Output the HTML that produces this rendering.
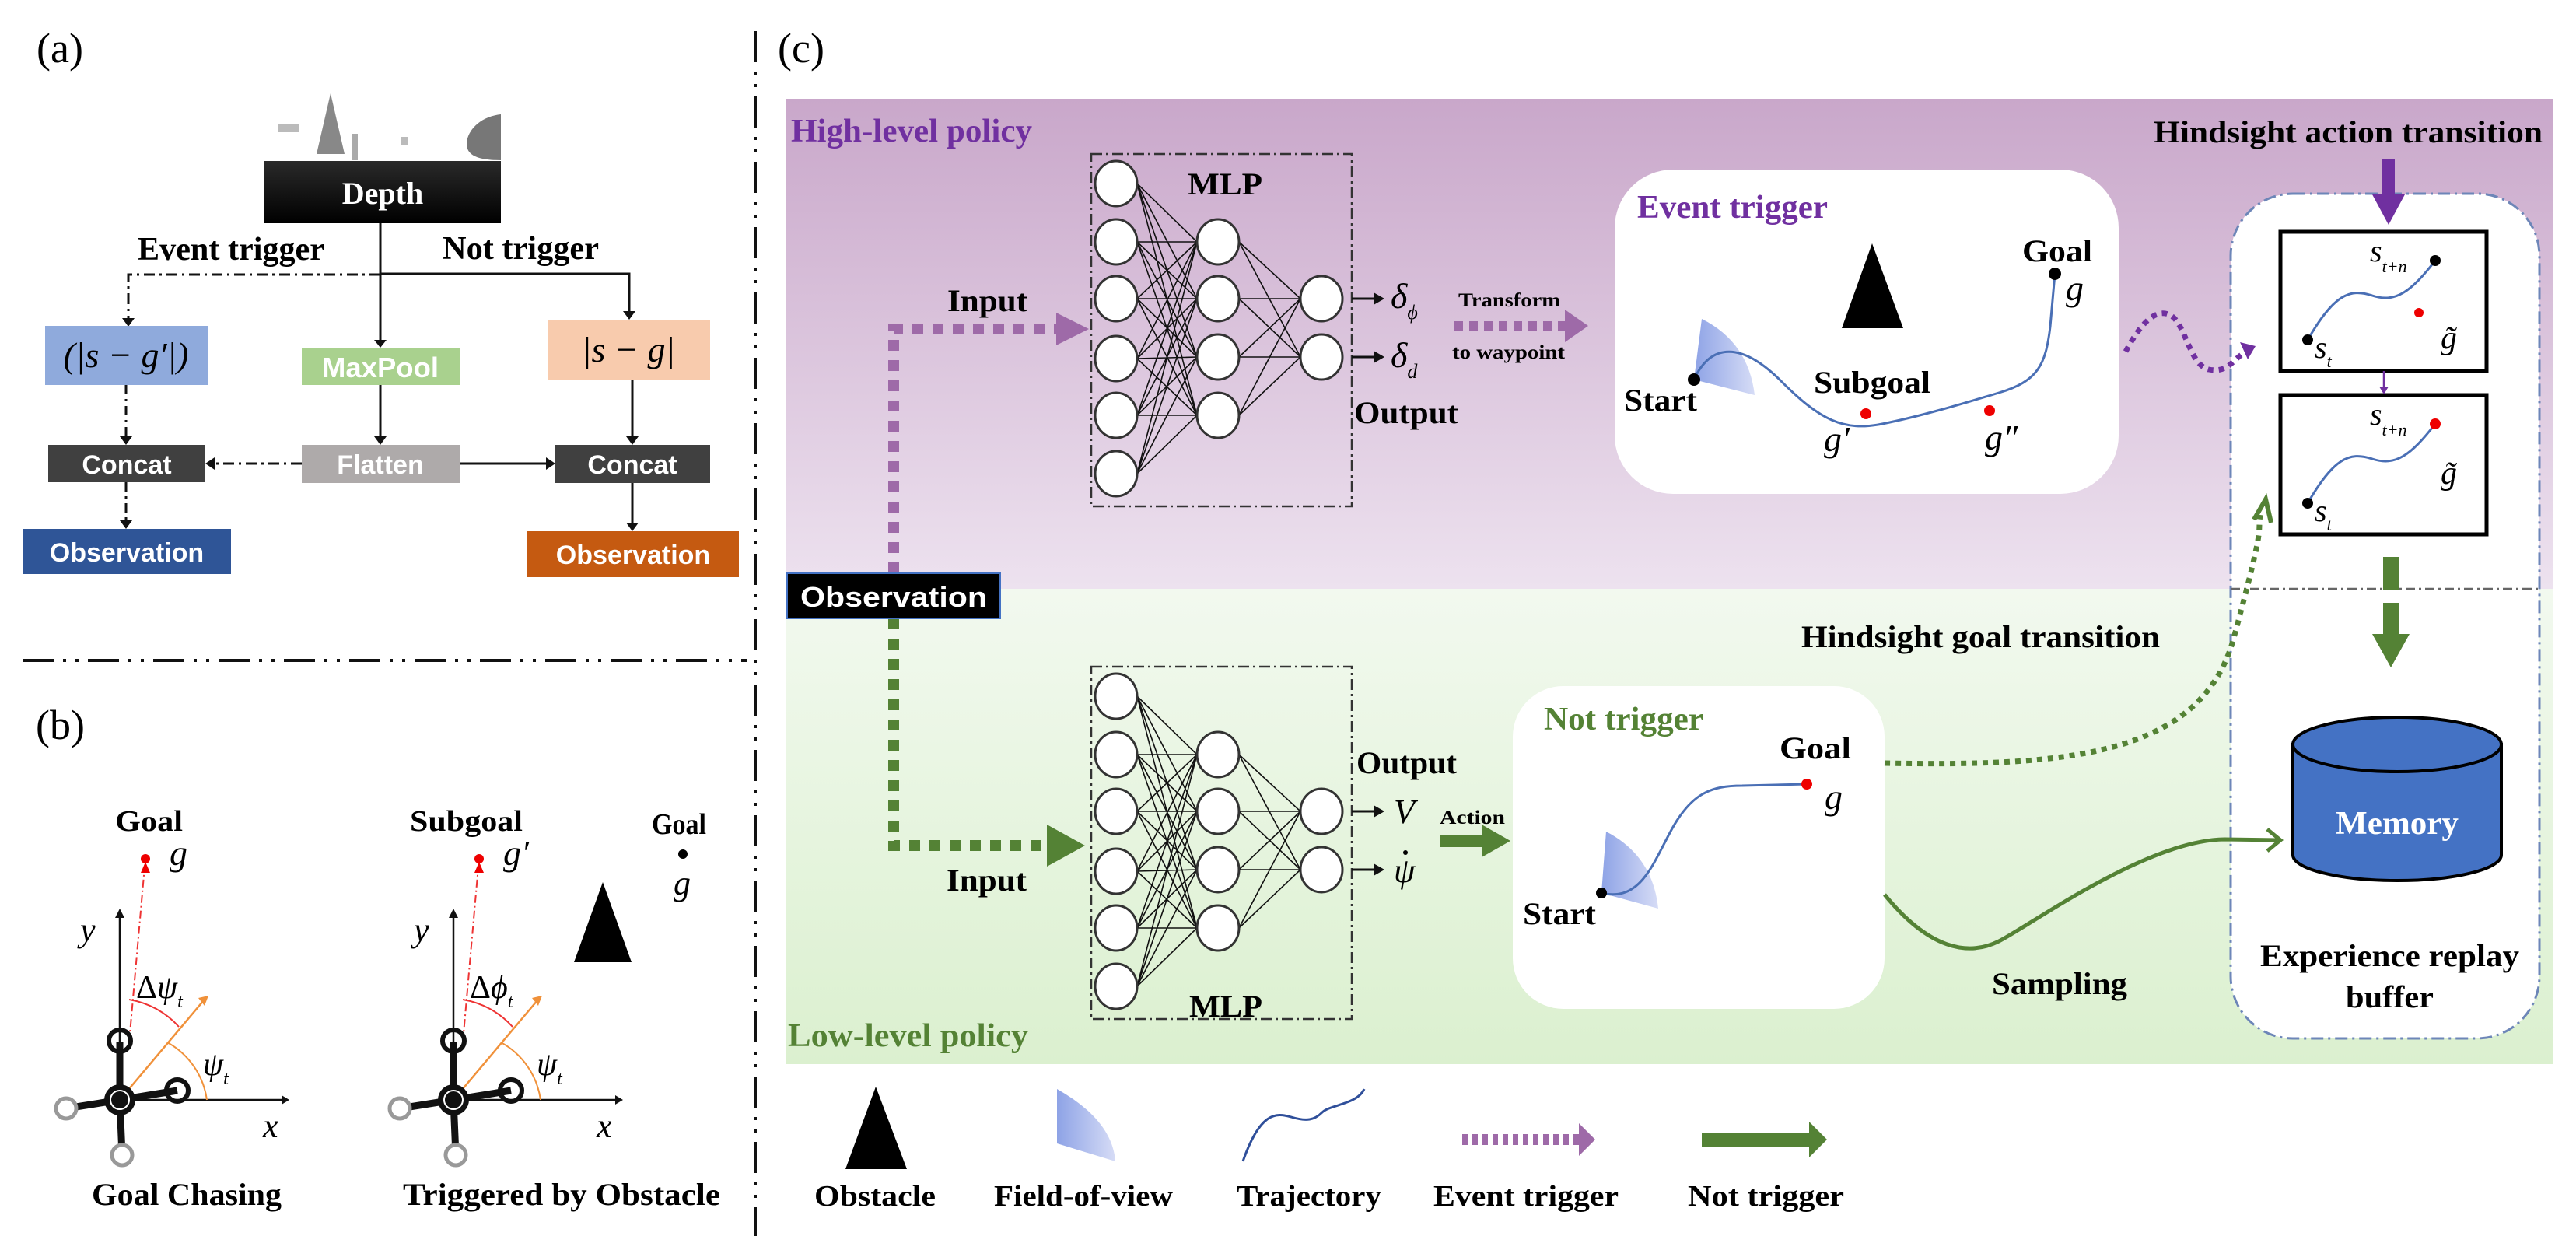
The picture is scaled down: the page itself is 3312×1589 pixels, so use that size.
<!DOCTYPE html>
<html><head><meta charset="utf-8"><style>
html,body{margin:0;padding:0;background:#fff}
svg{display:block}
.b{font-family:"Liberation Serif",serif;font-weight:bold}
.s{font-family:"Liberation Sans",sans-serif;font-weight:bold;fill:#fff}
.i{font-family:"Liberation Serif",serif;font-style:italic}
.n{font-family:"Liberation Serif",serif}
</style></head><body>
<svg width="3312" height="1589" viewBox="0 0 3312 1589" xmlns="http://www.w3.org/2000/svg">
<defs>
<linearGradient id="pg" x1="0" y1="0" x2="0" y2="1"><stop offset="0" stop-color="#c9a7ca"/><stop offset="1" stop-color="#ede2ef"/></linearGradient>
<linearGradient id="gg" x1="0" y1="0" x2="0" y2="1"><stop offset="0" stop-color="#f2f9ef"/><stop offset="1" stop-color="#dbf0cf"/></linearGradient>
<linearGradient id="fov" x1="0" y1="0" x2="1" y2="0"><stop offset="0" stop-color="#8ea3e6"/><stop offset="1" stop-color="#d6dcf6"/></linearGradient>
<linearGradient id="dg" x1="0" y1="0" x2="0" y2="1"><stop offset="0" stop-color="#2a2a2a"/><stop offset="1" stop-color="#000"/></linearGradient>
<g id="mlp">
<path fill="none" stroke="#111" stroke-width="1.6" d="M1462 236L1539 311M1462 236L1539 384M1462 236L1539 459M1462 236L1539 534M1462 311L1539 311M1462 311L1539 384M1462 311L1539 459M1462 311L1539 534M1462 384L1539 311M1462 384L1539 384M1462 384L1539 459M1462 384L1539 534M1462 461L1539 311M1462 461L1539 384M1462 461L1539 459M1462 461L1539 534M1462 534L1539 311M1462 534L1539 384M1462 534L1539 459M1462 534L1539 534M1462 609L1539 311M1462 609L1539 384M1462 609L1539 459M1462 609L1539 534M1593 311L1672 384M1593 311L1672 459M1593 384L1672 384M1593 384L1672 459M1593 459L1672 384M1593 459L1672 459M1593 534L1672 384M1593 534L1672 459"/>
<g fill="#fff" stroke="#333" stroke-width="3">
<ellipse cx="1435" cy="236" rx="27" ry="29"/><ellipse cx="1435" cy="311" rx="27" ry="29"/><ellipse cx="1435" cy="384" rx="27" ry="29"/><ellipse cx="1435" cy="461" rx="27" ry="29"/><ellipse cx="1435" cy="534" rx="27" ry="29"/><ellipse cx="1435" cy="609" rx="27" ry="29"/>
<ellipse cx="1566" cy="311" rx="27" ry="29"/><ellipse cx="1566" cy="384" rx="27" ry="29"/><ellipse cx="1566" cy="459" rx="27" ry="29"/><ellipse cx="1566" cy="534" rx="27" ry="29"/>
<ellipse cx="1699" cy="384" rx="27" ry="29"/><ellipse cx="1699" cy="459" rx="27" ry="29"/>
</g>
<rect x="1403" y="198" width="335" height="453" fill="none" stroke="#333" stroke-width="2.5" stroke-dasharray="14 5 3 5"/>
<path d="M1738 384H1770M1738 459H1770" stroke="#111" stroke-width="3"/>
<path d="M1766 376L1780 384L1766 392ZM1766 451L1780 459L1766 467Z" fill="#111"/>
</g>
</defs>

<!-- Panel (a) -->
<text x="47" y="80" class="n" font-size="54">(a)</text>
<rect x="358" y="160" width="27" height="10" fill="#bbb"/>
<polygon points="407,198 425,120 443,198" fill="#888"/>
<rect x="453" y="172" width="7" height="34" fill="#aaa"/>
<rect x="515" y="176" width="10" height="10" fill="#bbb"/>
<path d="M644 147 C615 150 600 170 600 185 C600 200 615 206 644 206Z" fill="#777"/>
<rect x="340" y="207" width="304" height="80" fill="url(#dg)"/>
<text x="492" y="262" class="b" font-size="40" fill="#fff" text-anchor="middle">Depth</text>
<text x="177" y="334" class="b" font-size="42" textLength="240" lengthAdjust="spacingAndGlyphs">Event trigger</text>
<text x="569" y="333" class="b" font-size="42" textLength="201" lengthAdjust="spacingAndGlyphs">Not trigger</text>
<path d="M489 353H165V410" fill="none" stroke="#111" stroke-width="3" stroke-dasharray="14 6 3 6"/>
<path d="M489 352H809V400" fill="none" stroke="#111" stroke-width="3"/>
<path d="M489 287V438" stroke="#111" stroke-width="3"/>
<path d="M157 409L165 420L173 409ZM801 400L809 411L817 400ZM481 437L489 447L497 437Z" fill="#111"/>
<rect x="58" y="419" width="209" height="76" fill="#8faadc"/>
<text x="162" y="472" class="i" font-size="46" text-anchor="middle">(|s − g′|)</text>
<rect x="388" y="447" width="203" height="48" fill="#a9d18e"/>
<text x="489" y="485" class="s" font-size="36" text-anchor="middle" textLength="150" lengthAdjust="spacingAndGlyphs">MaxPool</text>
<rect x="704" y="411" width="209" height="78" fill="#f8cbad"/>
<text x="808" y="465" class="i" font-size="46" text-anchor="middle">|s − g|</text>
<rect x="62" y="572" width="202" height="48" fill="#404040"/>
<text x="163" y="609" class="s" font-size="34" text-anchor="middle">Concat</text>
<rect x="388" y="572" width="203" height="49" fill="#aeaaaa"/>
<text x="489" y="609" class="s" font-size="34" text-anchor="middle">Flatten</text>
<rect x="714" y="572" width="199" height="49" fill="#404040"/>
<text x="813" y="609" class="s" font-size="34" text-anchor="middle">Concat</text>
<rect x="29" y="680" width="268" height="58" fill="#2f5597"/>
<text x="163" y="722" class="s" font-size="34" text-anchor="middle">Observation</text>
<rect x="678" y="683" width="272" height="59" fill="#c55a11"/>
<text x="814" y="725" class="s" font-size="34" text-anchor="middle">Observation</text>
<g stroke="#111" stroke-width="3" fill="none">
<path d="M162 495V562M162 620V670" stroke-dasharray="12 6 3 6"/>
<path d="M388 596H276" stroke-dasharray="14 6 3 6"/>
<path d="M591 596H702M489 495V562M813 489V562M813 621V673"/>
</g>
<path d="M154 561L162 572L170 561ZM154 669L162 680L170 669ZM276 588L264 596L276 604ZM702 588L714 596L702 604ZM481 561L489 572L497 561ZM805 561L813 572L821 561ZM805 672L813 683L821 672Z" fill="#111"/>

<!-- separators -->
<path d="M971 40V1589" stroke="#111" stroke-width="4" stroke-dasharray="40 12 4 12 4 12"/>
<path d="M29 849H960" stroke="#111" stroke-width="4" stroke-dasharray="40 12 4 12 4 12"/>

<!-- Panel (b) -->
<text x="46" y="950" class="n" font-size="54">(b)</text>
<g id="drone">
<text x="148" y="1068" class="b" font-size="38" textLength="87" lengthAdjust="spacingAndGlyphs">Goal</text>
<text x="218" y="1112" class="i" font-size="46">g</text>
<path d="M166 1340L186 1114" stroke="#e33" stroke-width="2" stroke-dasharray="10 4 2 4"/>
<path d="M181 1122L187 1108L193 1122Z" fill="#e00"/>
<circle cx="187" cy="1104" r="6" fill="#e00"/>
<path d="M154 1414V1176M154 1414H364" stroke="#111" stroke-width="2.5"/>
<path d="M148 1180L154 1168L160 1180ZM362 1408L372 1414L362 1420Z" fill="#111"/>
<text x="103" y="1210" class="i" font-size="44">y</text>
<text x="338" y="1462" class="i" font-size="44">x</text>
<path d="M154 1414L262 1286" stroke="#f0913a" stroke-width="2.5"/>
<path d="M255 1283L268 1280L263 1293Z" fill="#f0913a"/>
<path d="M166 1285 A110 110 0 0 1 230 1320" fill="none" stroke="#e33" stroke-width="2"/>
<path d="M215 1340 A100 100 0 0 1 266 1414" fill="none" stroke="#f0913a" stroke-width="2"/>
<text x="175" y="1283" class="n" font-size="42">Δ<tspan class="i">ψ</tspan><tspan class="i" font-size="24" dy="12">t</tspan></text>
<text x="261" y="1382" class="i" font-size="42">ψ<tspan font-size="24" dy="12">t</tspan></text>
<path d="M154 1414L154 1340M154 1414L228 1402M154 1414L85 1425M154 1414L157 1485" stroke="#111" stroke-width="9"/>
<circle cx="154" cy="1338" r="14" fill="none" stroke="#111" stroke-width="6"/>
<circle cx="228" cy="1402" r="14" fill="none" stroke="#111" stroke-width="6"/>
<circle cx="85" cy="1425" r="13" fill="#fff" stroke="#999" stroke-width="5"/>
<circle cx="157" cy="1485" r="13" fill="#fff" stroke="#999" stroke-width="5"/>
<circle cx="154" cy="1414" r="20" fill="#111"/>
<circle cx="154" cy="1414" r="12" fill="none" stroke="#fff" stroke-width="2"/>
</g>
<text x="118" y="1549" class="b" font-size="40" textLength="244" lengthAdjust="spacingAndGlyphs">Goal Chasing</text>
<g transform="translate(429,0)">
<path d="M166 1340L186 1114" stroke="#e33" stroke-width="2" stroke-dasharray="10 4 2 4"/>
<path d="M181 1122L187 1108L193 1122Z" fill="#e00"/>
<circle cx="187" cy="1104" r="6" fill="#e00"/>
<path d="M154 1414V1176M154 1414H364" stroke="#111" stroke-width="2.5"/>
<path d="M148 1180L154 1168L160 1180ZM362 1408L372 1414L362 1420Z" fill="#111"/>
<text x="103" y="1210" class="i" font-size="44">y</text>
<text x="338" y="1462" class="i" font-size="44">x</text>
<text x="218" y="1112" class="i" font-size="46">g′</text>
<path d="M154 1414L262 1286" stroke="#f0913a" stroke-width="2.5"/>
<path d="M255 1283L268 1280L263 1293Z" fill="#f0913a"/>
<path d="M166 1285 A110 110 0 0 1 230 1320" fill="none" stroke="#e33" stroke-width="2"/>
<path d="M215 1340 A100 100 0 0 1 266 1414" fill="none" stroke="#f0913a" stroke-width="2"/>
<text x="175" y="1283" class="n" font-size="42">Δ<tspan class="i">ϕ</tspan><tspan class="i" font-size="24" dy="12">t</tspan></text>
<text x="261" y="1382" class="i" font-size="42">ψ<tspan font-size="24" dy="12">t</tspan></text>
<path d="M154 1414L154 1340M154 1414L228 1402M154 1414L85 1425M154 1414L157 1485" stroke="#111" stroke-width="9"/>
<circle cx="154" cy="1338" r="14" fill="none" stroke="#111" stroke-width="6"/>
<circle cx="228" cy="1402" r="14" fill="none" stroke="#111" stroke-width="6"/>
<circle cx="85" cy="1425" r="13" fill="#fff" stroke="#999" stroke-width="5"/>
<circle cx="157" cy="1485" r="13" fill="#fff" stroke="#999" stroke-width="5"/>
<circle cx="154" cy="1414" r="20" fill="#111"/>
<circle cx="154" cy="1414" r="12" fill="none" stroke="#fff" stroke-width="2"/>
</g>
<text x="527" y="1068" class="b" font-size="38" textLength="145" lengthAdjust="spacingAndGlyphs">Subgoal</text>
<polygon points="738,1237 775,1134 812,1237" fill="#000"/>
<text x="838" y="1072" class="b" font-size="38" textLength="70" lengthAdjust="spacingAndGlyphs">Goal</text>
<circle cx="878" cy="1098" r="6" fill="#000"/>
<text x="866" y="1150" class="i" font-size="44">g</text>
<text x="518" y="1549" class="b" font-size="40" textLength="408" lengthAdjust="spacingAndGlyphs">Triggered by Obstacle</text>

<!-- Panel (c) -->
<text x="1000" y="80" class="n" font-size="54">(c)</text>
<rect x="1010" y="127" width="2272" height="630" fill="url(#pg)"/>
<rect x="1010" y="757" width="2272" height="611" fill="url(#gg)"/>
<text x="1017" y="182" class="b" font-size="42" fill="#7030a0" textLength="310" lengthAdjust="spacingAndGlyphs">High-level policy</text>
<text x="1013" y="1345" class="b" font-size="42" fill="#548235" textLength="309" lengthAdjust="spacingAndGlyphs">Low-level policy</text>

<use href="#mlp"/>
<use href="#mlp" transform="translate(0,659)"/>
<text x="1527" y="250" class="b" font-size="40" textLength="96" lengthAdjust="spacingAndGlyphs">MLP</text>
<text x="1529" y="1307" class="b" font-size="40" textLength="94" lengthAdjust="spacingAndGlyphs">MLP</text>
<text x="1741" y="544" class="b" font-size="40" textLength="134" lengthAdjust="spacingAndGlyphs">Output</text>
<text x="1744" y="994" class="b" font-size="40" textLength="129" lengthAdjust="spacingAndGlyphs">Output</text>
<text x="1788" y="396" class="i" font-size="46">δ<tspan font-size="26" dy="14">ϕ</tspan></text>
<text x="1788" y="472" class="i" font-size="46">δ<tspan font-size="26" dy="14">d</tspan></text>
<text x="1792" y="1058" class="i" font-size="44">V</text>
<text x="1792" y="1134" class="i" font-size="44">ψ</text>
<circle cx="1807" cy="1096" r="3" fill="#000"/>

<!-- inputs -->
<path d="M1149 737V423H1358" fill="none" stroke="#9e6aa8" stroke-width="14" stroke-dasharray="14 12"/>
<path d="M1358 402L1400 423L1358 444Z" fill="#9e6aa8"/>
<path d="M1149 795V1087H1346" fill="none" stroke="#548235" stroke-width="14" stroke-dasharray="14 12"/>
<path d="M1346 1060L1395 1087L1346 1114Z" fill="#548235"/>
<text x="1218" y="400" class="b" font-size="40" textLength="103" lengthAdjust="spacingAndGlyphs">Input</text>
<text x="1217" y="1145" class="b" font-size="40" textLength="103" lengthAdjust="spacingAndGlyphs">Input</text>
<rect x="1012" y="737" width="274" height="58" fill="#000" stroke="#4472c4" stroke-width="2"/>
<text x="1149" y="780" class="s" font-size="36" text-anchor="middle" textLength="240" lengthAdjust="spacingAndGlyphs">Observation</text>

<!-- transform -->
<text x="1875" y="394" class="b" font-size="25" textLength="131" lengthAdjust="spacingAndGlyphs">Transform</text>
<text x="1867" y="461" class="b" font-size="25" textLength="145" lengthAdjust="spacingAndGlyphs">to waypoint</text>
<path d="M1870 419H2012" stroke="#9e6aa8" stroke-width="12" stroke-dasharray="11 8"/>
<path d="M2012 398L2042 419L2012 440Z" fill="#9e6aa8"/>
<text x="1851" y="1059" class="b" font-size="25" textLength="84" lengthAdjust="spacingAndGlyphs">Action</text>
<rect x="1851" y="1074" width="56" height="15" fill="#548235"/>
<path d="M1905 1060L1942 1081L1905 1102Z" fill="#548235"/>

<!-- event trigger box -->
<rect x="2076" y="218" width="648" height="417" rx="75" fill="#fff"/>
<text x="2105" y="280" class="b" font-size="42" fill="#7030a0" textLength="245" lengthAdjust="spacingAndGlyphs">Event trigger</text>
<polygon points="2368,422 2407,313 2447,422" fill="#000"/>
<path d="M2178 488L2188 410Q2248 440 2256 508Z" fill="url(#fov)"/>
<path d="M2178 488C2200 440 2240 440 2290 490S2370 555 2420 545S2520 520 2570 505S2630 470 2636 420L2642 352" fill="none" stroke="#4a6fb5" stroke-width="3"/>
<circle cx="2178" cy="488" r="8" fill="#000"/>
<circle cx="2642" cy="352" r="8" fill="#000"/>
<circle cx="2399" cy="532" r="7" fill="#e00"/>
<circle cx="2558" cy="528" r="7" fill="#e00"/>
<text x="2600" y="336" class="b" font-size="40" textLength="90" lengthAdjust="spacingAndGlyphs">Goal</text>
<text x="2656" y="386" class="i" font-size="46">g</text>
<text x="2088" y="528" class="b" font-size="40" textLength="94" lengthAdjust="spacingAndGlyphs">Start</text>
<text x="2332" y="505" class="b" font-size="40" textLength="150" lengthAdjust="spacingAndGlyphs">Subgoal</text>
<text x="2345" y="580" class="i" font-size="46">g′</text>
<text x="2552" y="578" class="i" font-size="46">g″</text>

<!-- not trigger box -->
<rect x="1945" y="882" width="478" height="415" rx="65" fill="#fff"/>
<text x="1985" y="938" class="b" font-size="42" fill="#548235" textLength="205" lengthAdjust="spacingAndGlyphs">Not trigger</text>
<path d="M2059 1148L2065 1069Q2125 1100 2132 1168Z" fill="url(#fov)"/>
<path d="M2059 1148C2110 1160 2125 1110 2150 1065S2200 1010 2240 1010L2323 1008" fill="none" stroke="#4a6fb5" stroke-width="3"/>
<circle cx="2059" cy="1148" r="7" fill="#000"/>
<circle cx="2323" cy="1008" r="7" fill="#e00"/>
<text x="2288" y="975" class="b" font-size="40" textLength="92" lengthAdjust="spacingAndGlyphs">Goal</text>
<text x="2346" y="1040" class="i" font-size="46">g</text>
<text x="1958" y="1188" class="b" font-size="40" textLength="94" lengthAdjust="spacingAndGlyphs">Start</text>

<!-- buffer -->
<rect x="2868" y="249" width="397" height="1086" rx="80" fill="#fff" stroke="#6d86b8" stroke-width="3" stroke-dasharray="16 6 3 6"/>
<path d="M2868 757H3265" stroke="#666" stroke-width="2.5" stroke-dasharray="12 5 3 5"/>
<text x="2769" y="183" class="b" font-size="40" textLength="500" lengthAdjust="spacingAndGlyphs">Hindsight action transition</text>
<rect x="3063" y="205" width="16" height="48" fill="#7030a0"/>
<path d="M3050 250L3071 289L3092 250Z" fill="#7030a0"/>
<rect x="2932" y="298" width="265" height="179" fill="#fff" stroke="#000" stroke-width="5"/>
<rect x="2932" y="508" width="265" height="179" fill="#fff" stroke="#000" stroke-width="5"/>
<path d="M3065 477V500" stroke="#7030a0" stroke-width="2.5"/><path d="M3059 497L3065 507L3071 497Z" fill="#7030a0"/>
<g fill="none" stroke="#4a6fb5" stroke-width="3">
<path d="M2967 437C3000 380 3020 370 3050 380S3100 375 3131 335"/>
<path d="M2967 647C3000 590 3020 580 3050 590S3100 585 3131 545"/>
</g>
<circle cx="3131" cy="335" r="7" fill="#000"/><circle cx="2967" cy="437" r="7" fill="#000"/><circle cx="3110" cy="402" r="6" fill="#e00"/>
<circle cx="3131" cy="545" r="7" fill="#e00"/><circle cx="2967" cy="647" r="7" fill="#000"/>
<text x="3047" y="336" class="i" font-size="40">s<tspan font-size="22" dy="14">t+n</tspan></text>
<text x="2976" y="460" class="i" font-size="40">s<tspan font-size="22" dy="12">t</tspan></text>
<text x="3138" y="448" class="i" font-size="42">g̃</text>
<text x="3047" y="546" class="i" font-size="40">s<tspan font-size="22" dy="14">t+n</tspan></text>
<text x="2976" y="670" class="i" font-size="40">s<tspan font-size="22" dy="12">t</tspan></text>
<text x="3138" y="622" class="i" font-size="42">g̃</text>
<rect x="3064" y="716" width="20" height="43" fill="#548235"/>
<rect x="3064" y="775" width="20" height="42" fill="#548235"/>
<path d="M3050 815L3074 858L3098 815Z" fill="#548235"/>
<path d="M2948 957V1099A134 33 0 0 0 3216 1099V957Z" fill="#4472c4" stroke="#000" stroke-width="4"/>
<ellipse cx="3082" cy="957" rx="134" ry="35" fill="#4472c4" stroke="#000" stroke-width="4"/>
<text x="3082" y="1072" class="b" font-size="42" fill="#fff" text-anchor="middle" textLength="158" lengthAdjust="spacingAndGlyphs">Memory</text>
<text x="2906" y="1242" class="b" font-size="40" textLength="333" lengthAdjust="spacingAndGlyphs">Experience replay</text>
<text x="3016" y="1295" class="b" font-size="40" textLength="113" lengthAdjust="spacingAndGlyphs">buffer</text>

<!-- connectors -->
<text x="2316" y="832" class="b" font-size="40" textLength="461" lengthAdjust="spacingAndGlyphs">Hindsight goal transition</text>
<path d="M2423 981C2650 985 2830 975 2872 820S2902 690 2906 662" fill="none" stroke="#548235" stroke-width="7" stroke-dasharray="7 7"/>
<path d="M2898 668L2913 642L2920 672" fill="none" stroke="#548235" stroke-width="6"/>
<path d="M2733 452C2750 420 2770 395 2790 405S2815 470 2840 475S2870 462 2888 452" fill="none" stroke="#7030a0" stroke-width="7" stroke-dasharray="7 7"/>
<path d="M2880 440L2900 445L2890 462Z" fill="#7030a0"/>
<path d="M2423 1150C2480 1220 2530 1230 2570 1210S2760 1080 2860 1079L2928 1080" fill="none" stroke="#548235" stroke-width="5"/>
<path d="M2915 1066L2932 1080L2915 1094" fill="none" stroke="#548235" stroke-width="5"/>
<text x="2561" y="1278" class="b" font-size="40" textLength="174" lengthAdjust="spacingAndGlyphs">Sampling</text>

<!-- legend -->
<polygon points="1087,1503 1126,1397 1166,1503" fill="#000"/>
<path d="M1359 1400Q1430 1440 1434 1493L1359 1470Z" fill="url(#fov)"/>
<path d="M1598 1493C1620 1430 1640 1430 1660 1436S1690 1440 1700 1430S1745 1420 1754 1400" fill="none" stroke="#2f4f9a" stroke-width="3"/>
<path d="M1880 1465H2030" stroke="#9e6aa8" stroke-width="14" stroke-dasharray="7 6"/>
<path d="M2030 1444L2051 1465L2030 1486Z" fill="#9e6aa8"/>
<rect x="2188" y="1456" width="140" height="18" fill="#548235"/>
<path d="M2326 1442L2349 1465L2326 1488Z" fill="#548235"/>
<g class="b" font-size="38">
<text x="1047" y="1550" textLength="156" lengthAdjust="spacingAndGlyphs">Obstacle</text>
<text x="1278" y="1550" textLength="230" lengthAdjust="spacingAndGlyphs">Field-of-view</text>
<text x="1590" y="1550" textLength="186" lengthAdjust="spacingAndGlyphs">Trajectory</text>
<text x="1843" y="1550" textLength="238" lengthAdjust="spacingAndGlyphs">Event trigger</text>
<text x="2170" y="1550" textLength="201" lengthAdjust="spacingAndGlyphs">Not trigger</text>
</g>
</svg>
</body></html>
